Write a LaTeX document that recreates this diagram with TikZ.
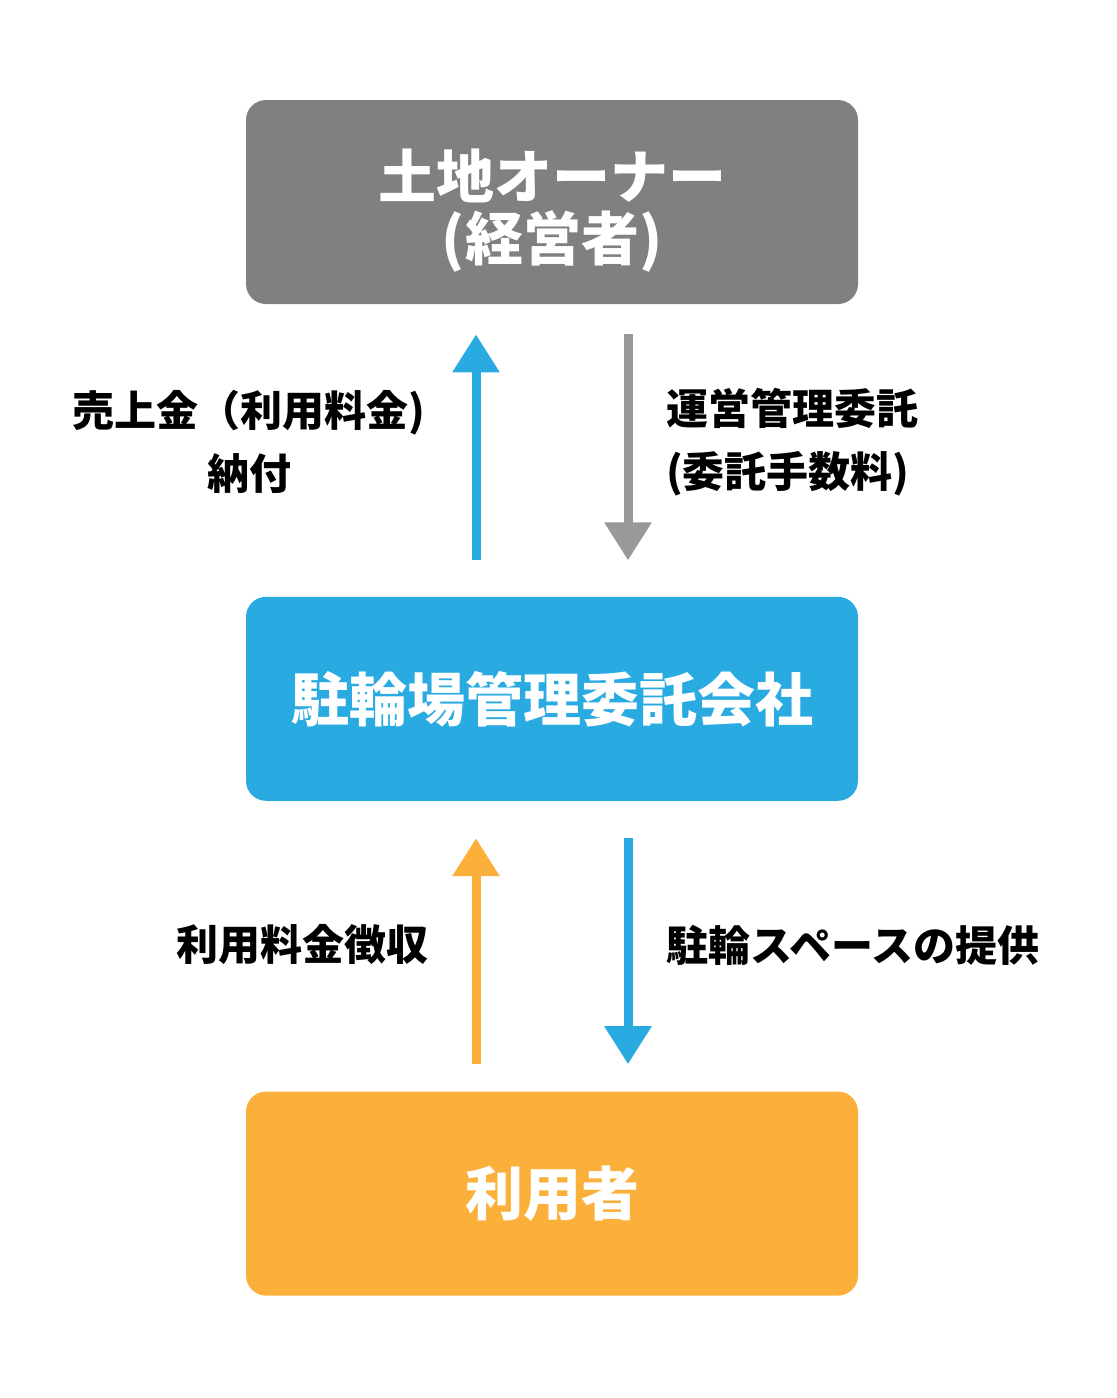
\documentclass[tikz,border=0pt]{standalone}
\usepackage{fontspec}
\setmainfont{Noto Sans CJK JP}
\usepackage{xcolor}
\usetikzlibrary{positioning, arrows.meta}

\definecolor{ownergray}{HTML}{808080}
\definecolor{arrowgray}{HTML}{999999}
\definecolor{agentblue}{HTML}{29ABE2}
\definecolor{userorange}{HTML}{FBB03B}

\begin{document}
\begin{tikzpicture}[
    x=0.5pt, y=-0.5pt,
    party/.style={rectangle, rounded corners=10pt, minimum width=306pt, minimum height=102pt, text centered, align=center, text=white, font=\bfseries\fontsize{29}{31}\selectfont},
    note/.style={align=center, text=black, font=\bfseries\fontsize{21}{31.5}\selectfont},
    flow/.style={line width=4.5pt, -{Triangle[width=22.5pt,length=19pt]}}
]
\useasboundingbox (0,0) rectangle (1117,1398);

\node (owner) [party, fill=ownergray] at (552,202) {\rule{0pt}{33pt}土地オーナー\\(経営者)};
\node (agent) [party, fill=agentblue, below=146pt of owner] {駐輪場管理委託会社};
\node (user) [party, fill=userorange, below=145pt of agent] {利用者};

\draw [flow, agentblue, shorten <=18pt, shorten >=15pt] ([xshift=-38pt]agent.north) -- ([xshift=-38pt]owner.south);
\draw [flow, arrowgray, shorten <=15pt, shorten >=18pt] ([xshift=38pt]owner.south) -- ([xshift=38pt]agent.north);
\draw [flow, userorange, shorten <=13.5pt, shorten >=18.5pt] ([xshift=-38pt]user.north) -- ([xshift=-38pt]agent.south);
\draw [flow, agentblue, shorten <=18.5pt, shorten >=13.5pt] ([xshift=38pt]agent.south) -- ([xshift=38pt]user.north);

\node (pay) [note] at (249,442) {売上金（利用料金)\\納付};
\node (entrust) [note, align=left, anchor=west] at (659,442) {運営管理委託\\(委託手数料)};
\node (collect) [note, anchor=east] at (436,945) {利用料金徴収};
\node (space) [note, anchor=west] at (659,945) {駐輪スペースの提供};

\end{tikzpicture}
\end{document}
